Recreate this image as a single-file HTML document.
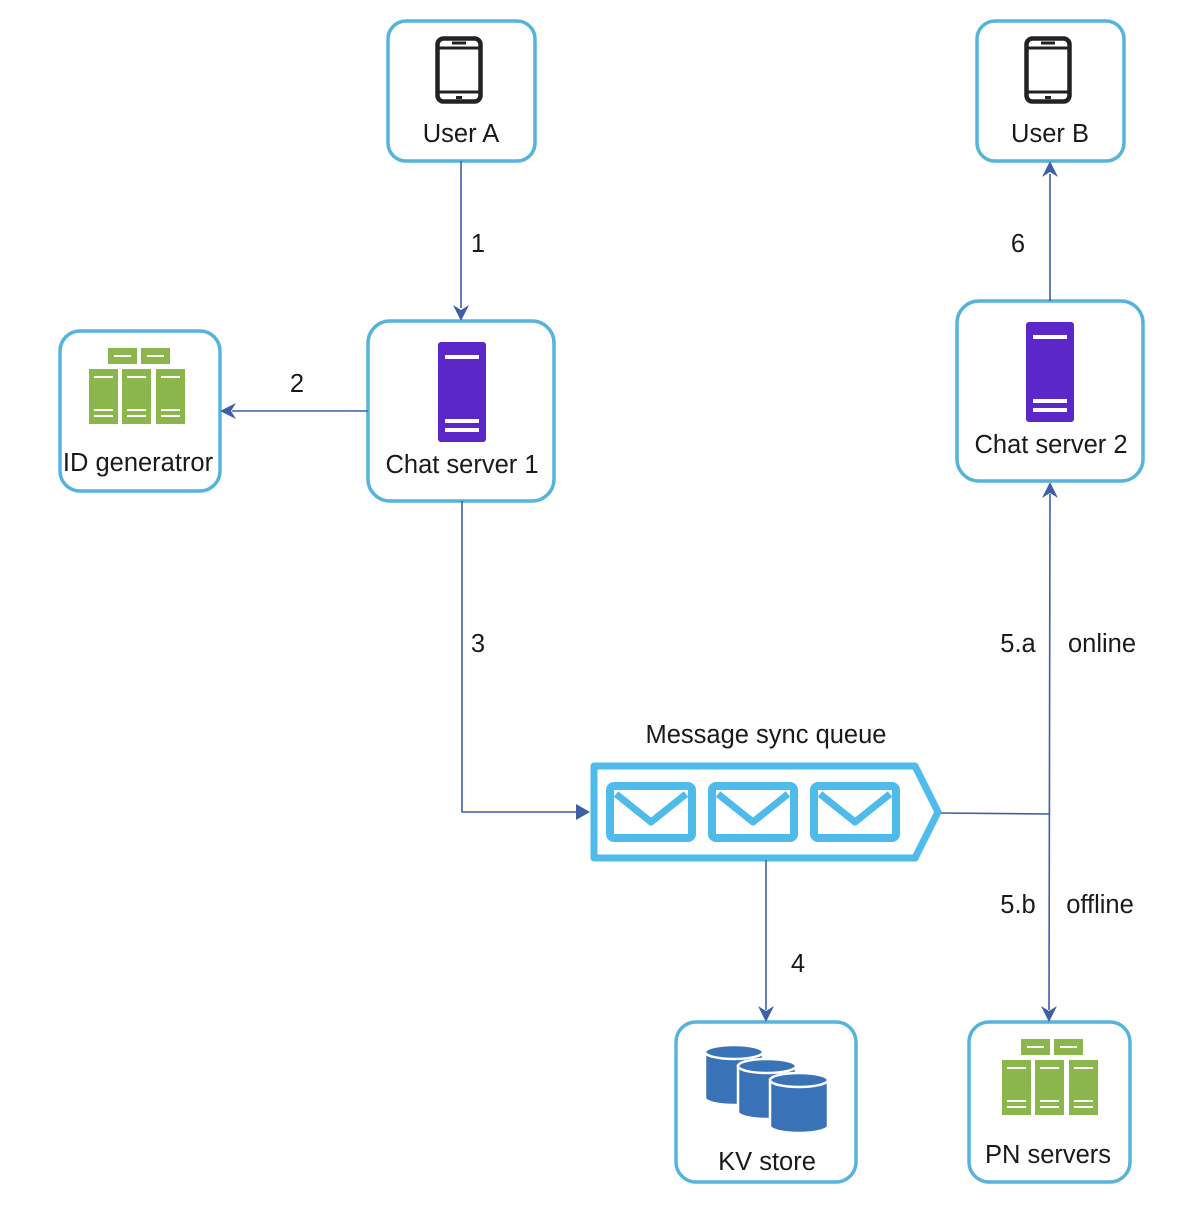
<!DOCTYPE html>
<html><head><meta charset="utf-8"><style>
html,body{margin:0;padding:0;background:#fff;}
svg{display:block;}
text{font-family:"Liberation Sans",sans-serif;fill:#1a1a1a;}
</style></head><body>
<svg width="1200" height="1208" viewBox="0 0 1200 1208" xmlns="http://www.w3.org/2000/svg">
<defs>
<symbol id="phone" viewBox="0 0 48 68">
<rect x="2.5" y="2.5" width="43" height="63" rx="6" fill="none" stroke="#222" stroke-width="4.5"/>
<line x1="2" y1="12" x2="46" y2="12" stroke="#222" stroke-width="3"/>
<line x1="2" y1="56" x2="46" y2="56" stroke="#222" stroke-width="3"/>
<rect x="17" y="5.5" width="14" height="3" fill="#222"/>
<rect x="21" y="60" width="6" height="3" fill="#222"/>
</symbol>
<symbol id="srv" viewBox="0 0 48 100">
<rect x="0" y="0" width="48" height="100" rx="3" fill="#5b27c9"/>
<rect x="7" y="13" width="34" height="4" fill="#fff"/>
<rect x="7" y="77" width="34" height="4" fill="#fff"/>
<rect x="7" y="86" width="34" height="4" fill="#fff"/>
</symbol>
<symbol id="green" viewBox="0 0 96 76">
<rect x="19" y="0" width="29" height="16" fill="#8ab64b"/>
<rect x="52" y="0" width="29" height="16" fill="#8ab64b"/>
<rect x="25" y="7" width="17" height="2" fill="#fff"/>
<rect x="58" y="7" width="17" height="2" fill="#fff"/>
<g fill="#8ab64b">
<rect x="0" y="21" width="29" height="55"/>
<rect x="33" y="21" width="29" height="55"/>
<rect x="67" y="21" width="29" height="55"/>
</g>
<g fill="#fff">
<rect x="5" y="28" width="19" height="2"/><rect x="38" y="28" width="19" height="2"/><rect x="72" y="28" width="19" height="2"/>
<rect x="5" y="61" width="19" height="2"/><rect x="38" y="61" width="19" height="2"/><rect x="72" y="61" width="19" height="2"/>
<rect x="5" y="67" width="19" height="2"/><rect x="38" y="67" width="19" height="2"/><rect x="72" y="67" width="19" height="2"/>
</g>
</symbol>
<symbol id="env" viewBox="0 0 90 60">
<rect x="4" y="4" width="82" height="52" rx="4" fill="none" stroke="#4ebbeb" stroke-width="8"/>
<polyline points="10,12 45,40 80,12" fill="none" stroke="#4ebbeb" stroke-width="7" stroke-linejoin="round"/>
</symbol>
</defs>

<g fill="#fff" stroke="#56b4dc" stroke-width="3.5">
<rect x="388" y="21" width="147" height="140" rx="18"/>
<rect x="977" y="21" width="147" height="140" rx="18"/>
<rect x="368" y="321" width="186" height="180" rx="22"/>
<rect x="957" y="301" width="186" height="180" rx="22"/>
<rect x="60" y="331" width="160" height="160" rx="20"/>
<rect x="676" y="1022" width="180" height="160" rx="20"/>
<rect x="969" y="1022" width="161" height="160" rx="20"/>
</g>

<use href="#phone" x="435" y="36" width="48" height="68"/>
<use href="#phone" x="1024" y="36" width="48" height="68"/>
<use href="#srv" x="438" y="342" width="48" height="100"/>
<use href="#srv" x="1026" y="322" width="48" height="100"/>
<use href="#green" x="89" y="348" width="96" height="76"/>
<use href="#green" x="1000" y="1039" width="100" height="76"/>

<g fill="#3a72b8" stroke="#fff" stroke-width="2.5">
<path d="M705,1052 v46 a29,7 0 0 0 58,0 v-46 z"/>
<ellipse cx="734" cy="1052" rx="29" ry="7"/>
<path d="M738,1066 v46 a29,7 0 0 0 58,0 v-46 z"/>
<ellipse cx="767" cy="1066" rx="29" ry="7"/>
<path d="M770,1080 v46 a29,7 0 0 0 58,0 v-46 z"/>
<ellipse cx="799" cy="1080" rx="29" ry="7"/>
</g>

<path d="M594,766 H915 L938,812 L915,858 H594 Z" fill="#fff" stroke="#4ebbeb" stroke-width="7" stroke-linejoin="round"/>
<use href="#env" x="606" y="782" width="90" height="60"/>
<use href="#env" x="708" y="782" width="90" height="60"/>
<use href="#env" x="810" y="782" width="90" height="60"/>

<g stroke="#3d5fa6" stroke-width="1.6" fill="none">
<line x1="461" y1="161" x2="461" y2="308"/>
<line x1="368" y1="411" x2="232" y2="411"/>
<polyline points="462,501 462,812 578,812"/>
<line x1="941" y1="813" x2="1049" y2="814"/>
<line x1="1050" y1="494" x2="1049" y2="1010"/>
<line x1="1050" y1="301" x2="1050" y2="174"/>
<line x1="766" y1="860" x2="766" y2="1010"/>
</g>
<g fill="#3d5fa6">
<path d="M461,321 l-8,-16 l8,5 l8,-5 z"/>
<path d="M220,411 l16,-8 l-5,8 l5,8 z"/>
<path d="M590,812 l-14,-8 l0,16 z"/>
<path d="M1050,482 l-8,16 l8,-5 l8,5 z"/>
<path d="M1049,1022 l-8,-16 l8,5 l8,-5 z"/>
<path d="M1050,161 l-8,16 l8,-5 l8,5 z"/>
<path d="M766,1022 l-8,-16 l8,5 l8,-5 z"/>
</g>

<g font-size="25.5">
<text x="461" y="142" text-anchor="middle">User A</text>
<text x="1050" y="142" text-anchor="middle">User B</text>
<text x="462" y="473" text-anchor="middle">Chat server 1</text>
<text x="1051" y="453" text-anchor="middle">Chat server 2</text>
<text x="138" y="471" text-anchor="middle">ID generatror</text>
<text x="767" y="1170" text-anchor="middle">KV store</text>
<text x="1048" y="1163" text-anchor="middle">PN servers</text>
<text x="766" y="743" text-anchor="middle">Message sync queue</text>
<text x="478" y="252" text-anchor="middle">1</text>
<text x="297" y="392" text-anchor="middle">2</text>
<text x="478" y="652" text-anchor="middle">3</text>
<text x="798" y="972" text-anchor="middle">4</text>
<text x="1018" y="252" text-anchor="middle">6</text>
<text x="1018" y="652" text-anchor="middle">5.a</text>
<text x="1102" y="652" text-anchor="middle">online</text>
<text x="1018" y="913" text-anchor="middle">5.b</text>
<text x="1100" y="913" text-anchor="middle">offline</text>
</g>
</svg>
</body></html>
